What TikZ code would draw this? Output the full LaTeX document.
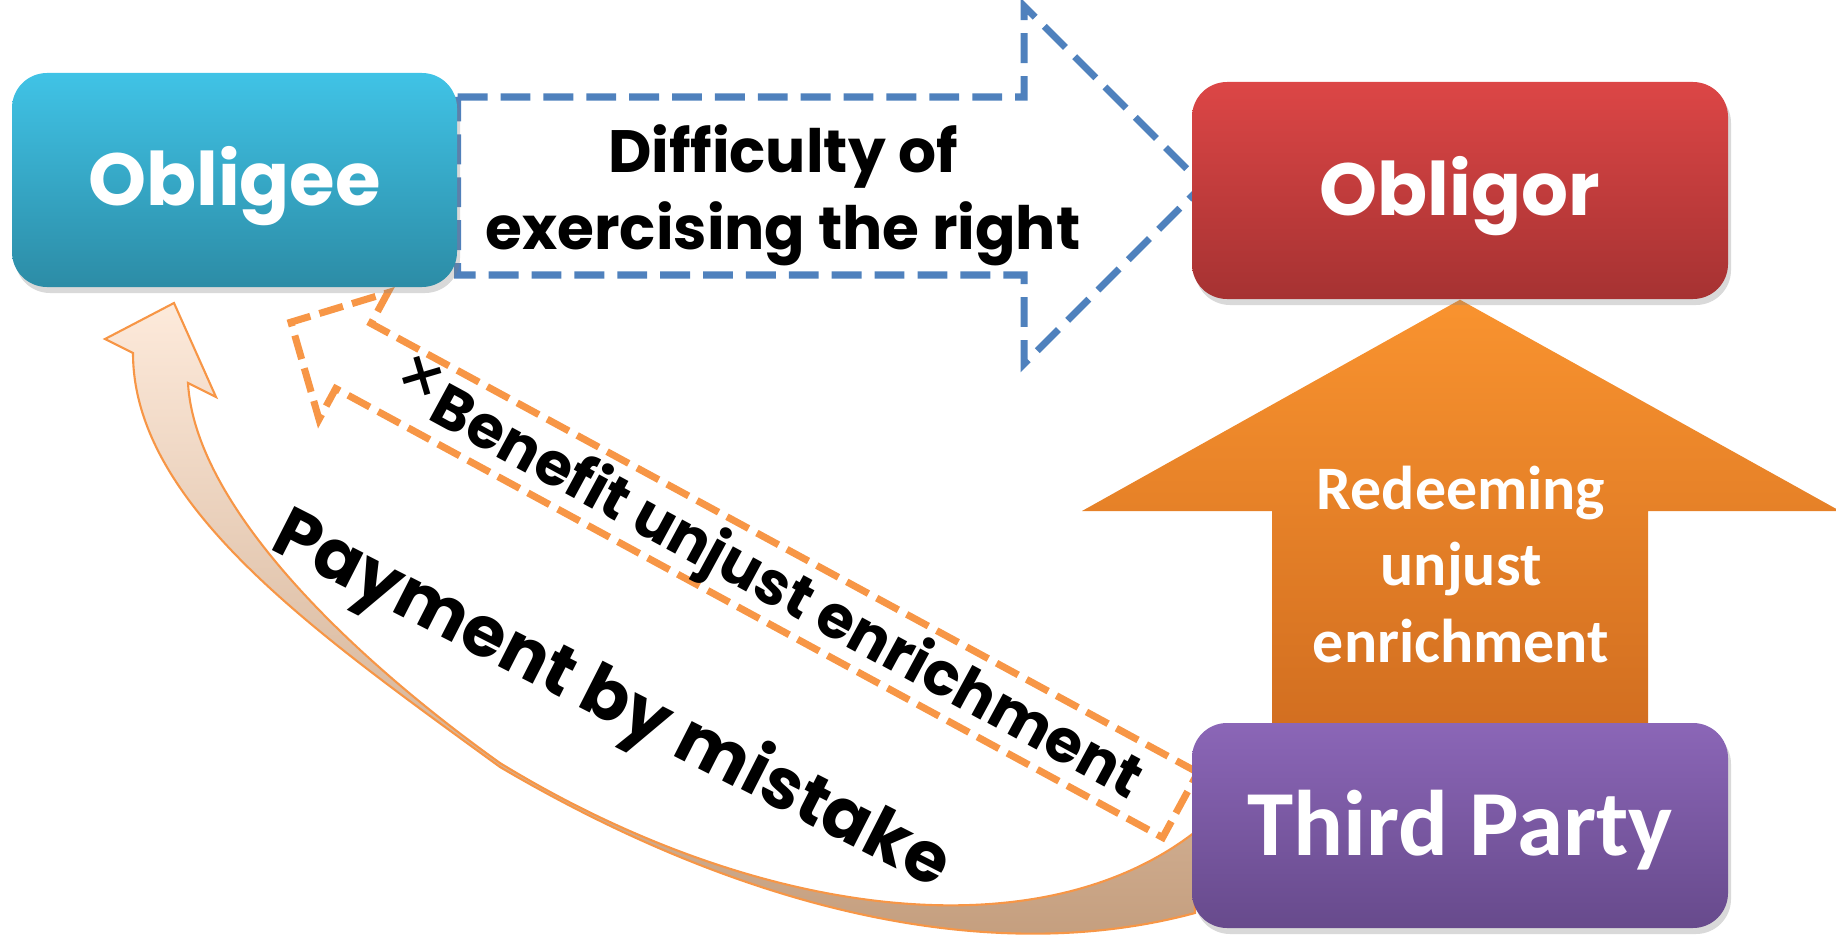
\documentclass[tikz,border=0pt]{standalone}
\usepackage{fontspec}
\newfontfamily\gothic{Poppins}
\newfontfamily\calib{Carlito}
\usetikzlibrary{calc,shadows,backgrounds}
\definecolor{dashblue}{HTML}{4F81BD}
\definecolor{dashorange}{HTML}{F79646}
\definecolor{cyantop}{HTML}{40C3E6}
\definecolor{cyanbot}{HTML}{2C8CA6}
\definecolor{redtop}{HTML}{DC4646}
\definecolor{redbot}{HTML}{A63232}
\definecolor{purpletop}{HTML}{8B66B7}
\definecolor{purplebot}{HTML}{674A8C}
\definecolor{uptop}{HTML}{F9932F}
\definecolor{upbot}{HTML}{C9661D}
\definecolor{peachtop}{HTML}{FDEADB}
\definecolor{peachmid}{HTML}{FAC79C}
\definecolor{tanbot}{HTML}{C29B7A}

\begin{document}
\begin{tikzpicture}[
  box/.style={rounded corners=0.35cm, inner sep=0pt, text=white, text depth=0pt,
    drop shadow={shadow xshift=0.03cm, shadow yshift=-0.06cm, opacity=0.3}},
  dashline/.style={line width=2pt, line join=miter},
  payarrow/.style={draw=dashorange, line width=0.6pt, top color=peachtop, middle color=peachmid, bottom color=tanbot}
]
  \useasboundingbox (0,0) rectangle (18.36,9.46);

  \node[box, minimum width=4.45cm, minimum height=2.14cm, top color=cyantop, bottom color=cyanbot,
    text height=14.5pt, font=\gothic\bfseries\fontsize{21}{25}\selectfont] (obligee) at (2.345,7.66) {Obligee};
  \node[box, minimum width=5.36cm, minimum height=2.17cm, top color=redtop, bottom color=redbot,
    text height=14.5pt, font=\gothic\bfseries\fontsize{21}{25}\selectfont] (obligor) at (14.60,7.555) {Obligor};
  \node[box, minimum width=5.36cm, minimum height=2.05cm, top color=purpletop, bottom color=purplebot,
    text height=17.1pt, font=\calib\bfseries\fontsize{26.5}{32}\selectfont] (third) at (14.60,1.205) {Third Party};

  \begin{scope}[on background layer]
    % blue arrow, obligee -> obligor
    \draw[dashline, dashblue, dash pattern=on 8.5pt off 3.7pt]
      (obligee.east |- 0,8.49) -- (10.24,8.49) -- (10.24,9.40) -- (12.03,7.61)
      -- (10.24,5.82) -- (10.24,6.71) -- (obligee.east |- 0,6.71) -- cycle;
    % orange arrow, third -> obligor
    \shade[top color=uptop, bottom color=upbot]
      ($(third.center)+(-1.88,0)$) -- (12.72,4.35) -- (10.82,4.35) -- (obligor.south)
      -- (18.40,4.35) -- (16.48,4.35) -- ($(third.center)+(1.88,0)$) -- cycle;
    % payment by mistake, third -> obligee
    \path[payarrow] (1.74,6.43) -- (2.16,5.49) -- (1.88,5.63)
      .. controls (1.95,4.4) and (3.5,2.9) .. (5.00,1.83)
      .. controls (7.5,0.3) and (10.35,-0.1) .. (11.95,1.14)
      -- (11.95,0.33)
      .. controls (9.95,-0.21) and (7.5,0.32) .. (5.00,1.79)
      .. controls (3.2,3.1) and (1.33,4.4) .. (1.33,5.93)
      -- (1.05,6.07) -- cycle;
    % benefit arrow, third -> obligee
    \begin{scope}[shift={($(third.west)+(-0.11,0.205)$)}, rotate=151.5]
      \draw[dashline, dashorange, dash pattern=on 7pt off 2.7pt]
        (0,-0.37) -- (9.41,-0.37) -- (9.41,-0.72) -- (10.12,0) -- (9.41,0.72) -- (9.41,0.37) -- (0,0.37) -- cycle;
    \end{scope}
  \end{scope}

  \node[align=center, font=\gothic\bfseries\fontsize{17}{22}\selectfont] (difficulty) at (7.83,7.51) {Difficulty of\\exercising the right};
  \node[align=center, text=white, font=\calib\bfseries\fontsize{17.6}{21.8}\selectfont] (redeeming) at (14.61,3.815) {Redeeming\\unjust\\enrichment};
  \node[anchor=base, rotate=-28.5, font=\gothic\bfseries\fontsize{17}{20}\selectfont] (benefit) at (7.57,3.48) {\raisebox{0.25ex}{\fontsize{21}{21}\selectfont\mdseries ×}Benefit unjust enrichment};
  \node[anchor=base, rotate=-27, font=\gothic\bfseries\fontsize{20}{24}\selectfont] (payment) at (6.02,2.27) {Payment by mistake};
\end{tikzpicture}
\end{document}
